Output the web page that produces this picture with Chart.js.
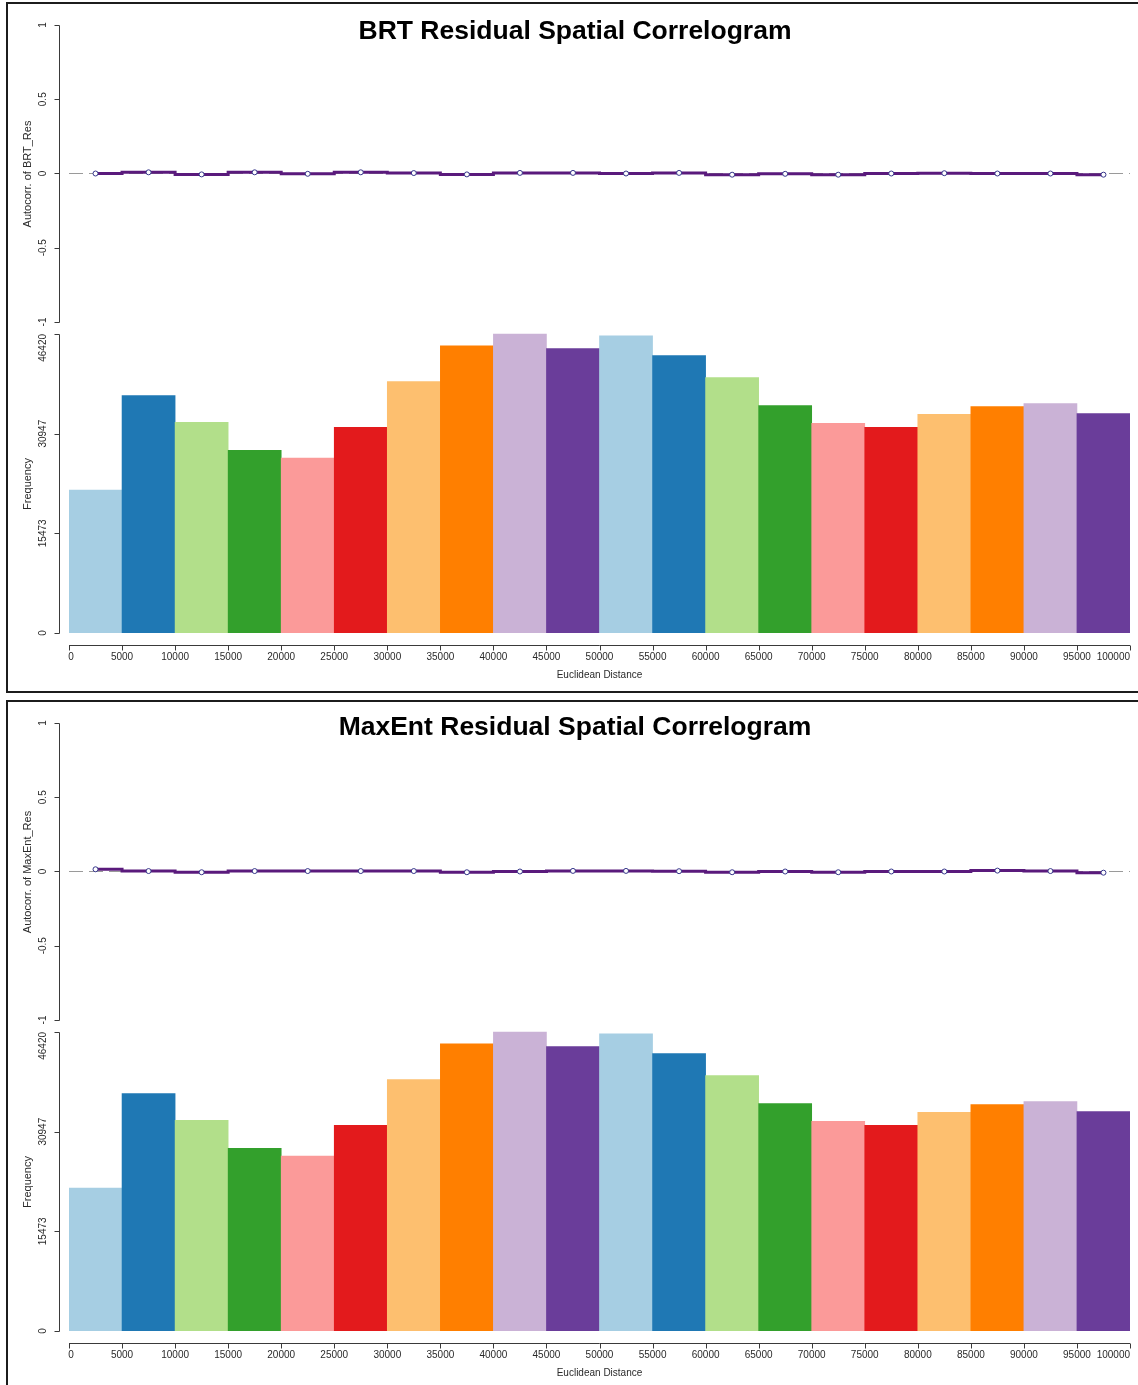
<!DOCTYPE html>
<html>
<head>
<meta charset="utf-8">
<title>Residual Spatial Correlograms</title>
<script src="https://cdn.jsdelivr.net/npm/chart.js@4.4.1/dist/chart.umd.min.js"></script>
<style>
  html, body { margin: 0; padding: 0; background: #fff; overflow: hidden; }
  body { width: 1138px; height: 1385px; position: relative; }
  .frame { position: absolute; border: 2px solid #1c1c1c; }
  canvas { position: absolute; left: 0; }
</style>
</head>
<body>
<div class="frame" style="left:6px; top:2px; width:1200px; height:687px;"></div>
<div class="frame" style="left:6px; top:700px; width:1200px; height:800px;"></div>
<canvas id="brtChart" width="1138" height="692" style="top:0px;"></canvas>
<canvas id="maxentChart" width="1138" height="687" style="top:698px;"></canvas>
<script>
// Distance classes (bin edges used as axis ticks) and bin centres
const distTicks = [0, 5000, 10000, 15000, 20000, 25000, 30000, 35000, 40000, 45000, 50000,
                   55000, 60000, 65000, 70000, 75000, 80000, 85000, 90000, 95000, 100000];
const binMid = [2500, 7500, 12500, 17500, 22500, 27500, 32500, 37500, 42500, 47500,
                52500, 57500, 62500, 67500, 72500, 77500, 82500, 87500, 92500, 97500];

// Number of point pairs in each distance class (same sample locations for both models)
const pairCounts = [22170, 36870, 32690, 28360, 27170, 31920, 39030, 44600, 46420, 44140,
                    46150, 43060, 39650, 35320, 32540, 31920, 33930, 35170, 35630, 34080];
const freqTicks = [0, 15473, 30947, 46420];

// Moran's I of model residuals per distance class
const corrTicks = [-1, -0.5, 0, 0.5, 1];
const brtCorr = [0.000, 0.008, -0.006, 0.008, -0.002, 0.008, 0.003, -0.006, 0.004, 0.004,
                 0.000, 0.004, -0.008, -0.002, -0.008, 0.000, 0.002, 0.000, 0.000, -0.008];
const maxentCorr = [0.015, 0.003, -0.005, 0.003, 0.003, 0.003, 0.003, -0.005, 0.000, 0.004,
                    0.004, 0.002, -0.005, 0.000, -0.005, 0.000, 0.000, 0.006, 0.003, -0.008];

// ColorBrewer "Paired" palette, recycled over the 20 classes
const paired = ['#a6cee3', '#1f78b4', '#b2df8a', '#33a02c', '#fb9a99',
                '#e31a1c', '#fdbf6f', '#ff7f00', '#cab2d6', '#6a3d9a'];
const binColors = binMid.map((_, i) => paired[i % paired.length]);

// Plot geometry (canvas pixels)
const PLOT_LEFT = 69, PLOT_RIGHT_GAP = 8;
const PLOT_TOP = 25, CORR_BOTTOM = 322, HIST_TOP = 334, PLOT_BOTTOM = 633;

const FONT = '"Liberation Sans", Arial, Helvetica, sans-serif';

// R-style axes, titles and zero reference line
const rAxes = {
  id: 'rAxes',
  beforeDatasetsDraw(chart) {
    const { ctx, chartArea, scales: { yc } } = chart;
    const y0 = Math.round(yc.getPixelForValue(0)) + 0.5;
    ctx.save();
    ctx.strokeStyle = '#9a9a9a';
    ctx.lineWidth = 1;
    ctx.setLineDash([14, 6]);
    ctx.beginPath();
    ctx.moveTo(chartArea.left, y0);
    ctx.lineTo(chartArea.right, y0);
    ctx.stroke();
    ctx.restore();
  },
  afterDraw(chart, args, opts) {
    const { ctx, chartArea, scales: { x, yc, yh } } = chart;
    ctx.save();
    ctx.strokeStyle = '#3a3a3a';
    ctx.fillStyle = '#2a2a2a';
    ctx.lineWidth = 1;
    const axisX = chartArea.left - 10 + 0.5;

    // vertical axis; the top label hangs below its tick when topHang is set
    const vAxis = (scale, ticks, title, topHang) => {
      const top = Math.round(scale.getPixelForValue(ticks[ticks.length - 1])) + 0.5;
      const bot = Math.round(scale.getPixelForValue(ticks[0])) + 0.5;
      ctx.beginPath();
      ctx.moveTo(axisX, top);
      ctx.lineTo(axisX, bot);
      ticks.forEach(t => {
        const p = Math.round(scale.getPixelForValue(t)) + 0.5;
        ctx.moveTo(axisX, p);
        ctx.lineTo(axisX - 5, p);
      });
      ctx.stroke();
      ctx.font = '10px ' + FONT;
      ctx.textBaseline = 'middle';
      ticks.forEach((t, i) => {
        ctx.save();
        ctx.translate(axisX - 16, scale.getPixelForValue(t));
        ctx.rotate(-Math.PI / 2);
        ctx.textAlign = (topHang && i === ticks.length - 1) ? 'right' : 'center';
        ctx.fillText(String(t), 0, 0);
        ctx.restore();
      });
      ctx.save();
      ctx.font = '11px ' + FONT;
      ctx.textAlign = 'center';
      ctx.translate(axisX - 32, (top + bot) / 2);
      ctx.rotate(-Math.PI / 2);
      ctx.fillText(title, 0, 0);
      ctx.restore();
    };
    vAxis(yc, corrTicks, opts.corrTitle, false);
    vAxis(yh, freqTicks, 'Frequency', true);

    // distance axis
    const axisY = chartArea.bottom + 12 + 0.5;
    const left = x.getPixelForValue(distTicks[0]);
    const right = x.getPixelForValue(distTicks[distTicks.length - 1]);
    ctx.beginPath();
    ctx.moveTo(left, axisY);
    ctx.lineTo(right, axisY);
    distTicks.forEach(t => {
      const p = Math.round(x.getPixelForValue(t)) + 0.5;
      ctx.moveTo(p, axisY);
      ctx.lineTo(p, axisY + 5);
    });
    ctx.stroke();
    ctx.font = '10px ' + FONT;
    ctx.textBaseline = 'middle';
    distTicks.forEach((t, i) => {
      ctx.textAlign = i === distTicks.length - 1 ? 'right' : 'center';
      ctx.fillText(String(t), x.getPixelForValue(t) + (i === 0 ? 2 : 0), axisY + 12);
    });
    ctx.textAlign = 'center';
    ctx.fillText('Euclidean Distance', (left + right) / 2, axisY + 30);

    // main title
    ctx.fillStyle = '#000';
    ctx.font = 'bold 26.5px ' + FONT;
    ctx.fillText(opts.title, 575, opts.titleY);
    ctx.restore();
  }
};

function makePanel(canvasId, title, titleY, corrTitle, corrValues) {
  const span = PLOT_BOTTOM - PLOT_TOP;
  const corrMin = 1 - 2 * span / (CORR_BOTTOM - PLOT_TOP);
  const freqMax = freqTicks[freqTicks.length - 1] * span / (PLOT_BOTTOM - HIST_TOP);
  const canvas = document.getElementById(canvasId);
  return new Chart(canvas, {
    type: 'bar',
    data: {
      datasets: [
        {
          type: 'line',
          label: corrTitle,
          data: binMid.map((d, i) => ({ x: d, y: corrValues[i] })),
          yAxisID: 'yc',
          stepped: 'middle',
          borderColor: '#5a1a7c',
          borderWidth: 3,
          pointRadius: 2.5,
          pointBorderWidth: 1,
          pointBorderColor: '#35358a',
          pointBackgroundColor: '#ffffff',
          fill: false,
          order: 0
        },
        {
          type: 'bar',
          label: 'Frequency',
          data: binMid.map((d, i) => ({ x: d, y: pairCounts[i] })),
          yAxisID: 'yh',
          backgroundColor: binColors,
          borderWidth: 0,
          barPercentage: 1,
          categoryPercentage: 1,
          order: 1
        }
      ]
    },
    options: {
      responsive: false,
      devicePixelRatio: 1,
      animation: false,
      layout: {
        padding: {
          left: PLOT_LEFT,
          right: PLOT_RIGHT_GAP,
          top: PLOT_TOP,
          bottom: canvas.height - PLOT_BOTTOM
        }
      },
      scales: {
        x: {
          type: 'linear', display: false, offset: false,
          min: distTicks[0], max: distTicks[distTicks.length - 1],
          ticks: { stepSize: 5000 }
        },
        yc: { type: 'linear', display: false, min: corrMin, max: 1 },
        yh: { type: 'linear', display: false, min: 0, max: freqMax }
      },
      plugins: {
        legend: { display: false },
        tooltip: { enabled: false },
        rAxes: { title, titleY, corrTitle }
      }
    },
    plugins: [rAxes]
  });
}

makePanel('brtChart', 'BRT Residual Spatial Correlogram', 32, 'Autocorr. of BRT_Res', brtCorr);
makePanel('maxentChart', 'MaxEnt Residual Spatial Correlogram', 30, 'Autocorr. of MaxEnt_Res', maxentCorr);
</script>
</body>
</html>
